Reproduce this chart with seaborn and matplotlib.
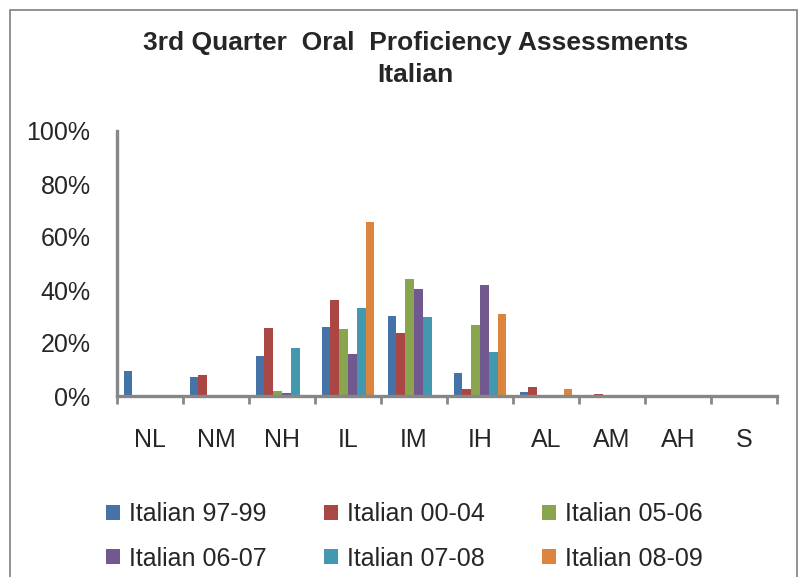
import numpy as np
import pandas as pd
import matplotlib
matplotlib.use("Agg")
import matplotlib.pyplot as plt
from matplotlib.patches import Rectangle
import seaborn as sns

# values in percent
levels = ["NL", "NM", "NH", "IL", "IM", "IH", "AL", "AM", "AH", "S"]
series = ["Italian 97-99", "Italian 00-04", "Italian 05-06",
          "Italian 06-07", "Italian 07-08", "Italian 08-09"]
it_97_99 = [9.5, 7.2, 15.1, 26.1, 30.2, 8.8, 1.6, 0, 0, 0]
it_00_04 = [0, 8.1, 25.7, 36.4, 23.7, 2.5, 3.3, 0.8, 0, 0]
it_05_06 = [0, 0, 1.8, 25.4, 44.3, 26.9, 0, 0, 0, 0]
it_06_07 = [0, 0, 1.1, 15.9, 40.4, 41.9, 0, 0, 0, 0]
it_07_08 = [0, 0, 18.3, 33.2, 30.0, 16.7, 0, 0, 0, 0]
it_08_09 = [0, 0, 0, 65.5, 0, 30.9, 2.5, 0, 0, 0]
colors = ["#4572A7", "#AA4643", "#89A54E", "#71588F", "#4198AF", "#DB843D"]

rows = []
for name, vals in zip(series, [it_97_99, it_00_04, it_05_06, it_06_07, it_07_08, it_08_09]):
    for lev, v in zip(levels, vals):
        rows.append({"level": lev, "series": name, "pct": v / 100.0})
df = pd.DataFrame(rows)

sns.set_theme(style="white")
plt.rcParams["font.family"] = ["Liberation Sans", "DejaVu Sans"]

fig = plt.figure(figsize=(7.99, 5.77), dpi=100)
ax = fig.add_axes([117 / 799, 1 - 396 / 577, 660 / 799, 265 / 577])

sns.barplot(data=df, x="level", y="pct", hue="series", order=levels,
            hue_order=series, palette=colors, saturation=1, width=0.8, gap=0,
            linewidth=0, errorbar=None, ax=ax)

grey = "#878787"
ax.set_xlim(-0.5, len(levels) - 0.5)
ax.set_ylim(0, 1)
ax.set_xlabel("")
ax.set_ylabel("")
for s in ["top", "right"]:
    ax.spines[s].set_visible(False)
for s in ["left", "bottom"]:
    ax.spines[s].set_color(grey)
    ax.spines[s].set_linewidth(2.4)
    ax.spines[s].set_zorder(5)

ax.set_yticks(np.arange(0, 1.01, 0.2))
ax.set_yticklabels([f"{int(round(t * 100))}%" for t in np.arange(0, 1.01, 0.2)])
ax.tick_params(axis="y", length=6, width=2.0, color=grey, pad=13, labelsize=18)
ax.set_xticks(range(len(levels)))
ax.set_xticklabels(levels)
ax.set_xticks(np.arange(-0.5, len(levels), 1), minor=True)
ax.tick_params(axis="x", which="major", length=0, pad=23, labelsize=18)
ax.tick_params(axis="x", which="minor", length=6, width=2.0, color=grey, bottom=True)

# legend laid out row by row, three per row
handles, labels = ax.get_legend_handles_labels()
ax.legend_.remove()
order = [0, 3, 1, 4, 2, 5]
fig.legend([handles[i] for i in order], [labels[i] for i in order], ncol=3,
           loc="upper left", bbox_to_anchor=(106 / 799, 1 - 502 / 577),
           frameon=False, fontsize=18, handlelength=0.56, handleheight=0.56,
           handletextpad=0.35, columnspacing=2.3, labelspacing=0.82,
           borderpad=0, borderaxespad=0)

fig.text(415.5 / 799, 1 - 43 / 577, "3rd Quarter  Oral  Proficiency Assessments",
         ha="center", va="center", fontsize=19, fontweight="bold")
fig.text(415.5 / 799, 1 - 75 / 577, "Italian",
         ha="center", va="center", fontsize=19, fontweight="bold")

fig.patches.append(Rectangle((10 / 799, -0.05), 787 / 799, 1.05 - 10 / 577,
                             transform=fig.transFigure, fill=False,
                             edgecolor="#7f7f7f", linewidth=1.2))

fig.savefig("out.png", dpi=100, facecolor="white")
